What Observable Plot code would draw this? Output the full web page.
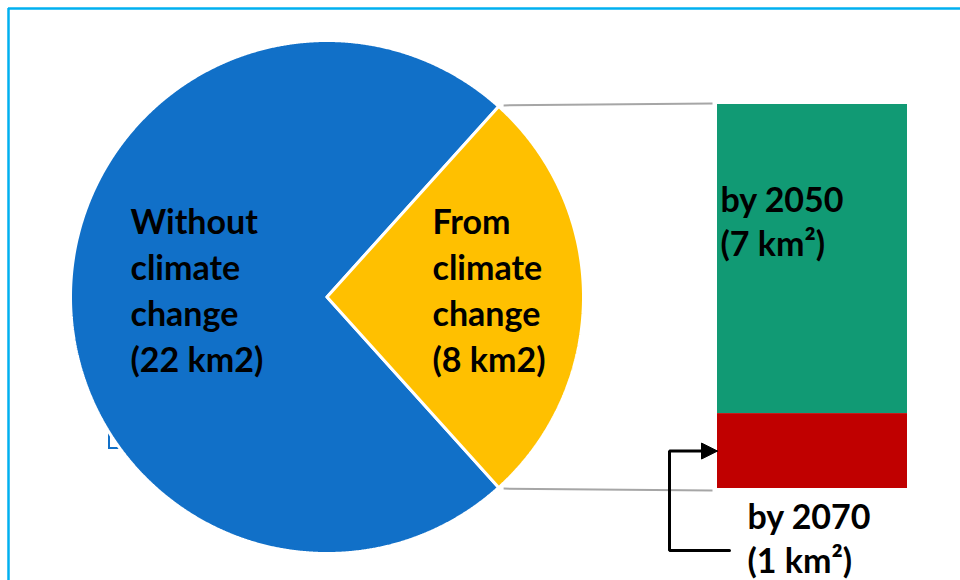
<!DOCTYPE html>
<html>
<head>
<meta charset="utf-8">
<script src="https://cdn.jsdelivr.net/npm/d3@7"></script>
<script src="https://cdn.jsdelivr.net/npm/@observablehq/plot@0.6"></script>
<style>
  html, body { margin: 0; padding: 0; background: white; overflow: hidden; }
  #wrap { position: relative; width: 960px; height: 580px; }
  #wrap svg { position: absolute; left: 0; top: 0; }
</style>
</head>
<body>
<div id="wrap"></div>
<script>
// ---- data ----
const pieCategories = ["From climate change", "Without climate change"];
const pieValues = [8, 22];
const pieColors = ["#FFC000", "#1170C8"];
const pieLabels = ["From\nclimate\nchange\n(8 km2)", "Without\nclimate\nchange\n(22 km2)"];

const barCategories = ["by 2050", "by 2070"];
const barValues = [6.44, 1.56];           // drawn proportions
const barColors = ["#119A74", "#C00000"];
const barLabels = ["by 2050\n(7 km²)", "by 2070\n(1 km²)"];

// ---- layout ----
const W = 960, H = 580;
const L = {
  cx: 326.5, cy: 296.5, r: 256.5,
  barX0: 717, barX1: 907, barTop: 104, barBottom: 488,
  pieLabelPos: [[432, 201], [130, 201]],
  barLabelPos: [[720, 180], [747, 497]],
  fontSize: 34
};

const wrap = document.getElementById("wrap");

// ---- bar (bottom layer) ----
const barData = barCategories.map((c, i) => ({category: c, value: barValues[i], color: barColors[i]}));
const barTotal = d3.sum(barValues);
const barPlot = Plot.plot({
  width: W, height: H, margin: 0,
  x: {domain: ["bar"], range: [L.barX0, L.barX1], padding: 0, axis: null},
  y: {domain: [0, barTotal], range: [L.barBottom, L.barTop], axis: null},
  color: {type: "identity"},
  marks: [
    Plot.barY(barData, {x: () => "bar", y: "value", fill: "color", reverse: true, inset: 0})
  ]
});
wrap.appendChild(barPlot);

// ---- pie geometry from values ----
const pieTotal = d3.sum(pieValues);
const firstSpan = 2 * Math.PI * pieValues[0] / pieTotal;
const start = Math.PI / 2 - firstSpan / 2;
const arcs = d3.pie().sort(null).value(d => d).startAngle(start).endAngle(start + 2 * Math.PI)(pieValues);
const pt = a => ({x: L.cx + L.r * Math.sin(a), y: L.cy - L.r * Math.cos(a)});
const slices = arcs.map((a, i) => {
  const n = Math.ceil((a.endAngle - a.startAngle) / 0.004);
  const pts = [{x: L.cx, y: L.cy}];
  for (let k = 0; k <= n; k++) pts.push(pt(a.startAngle + (a.endAngle - a.startAngle) * k / n));
  pts.push({x: L.cx, y: L.cy});
  return {points: pts, color: pieColors[i], category: pieCategories[i]};
});

const topEnd = pt(arcs[0].startAngle);
const botEnd = pt(arcs[0].endAngle);
const connectors = [
  {x1: topEnd.x + 5, y1: topEnd.y - 1, x2: L.barX0 - 5, y2: L.barTop - 1},
  {x1: botEnd.x + 5, y1: botEnd.y + 1, x2: L.barX0 - 5, y2: L.barBottom + 2}
];

// arrow from "by 2070" label to red segment
const redMid = L.barBottom - (L.barBottom - L.barTop) * barValues[1] / barTotal / 2;
const elbowX = L.barX0 - 48, lowY = 550;
const arrowPath = [
  {x: L.barX0 + 12, y: lowY}, {x: elbowX, y: lowY}, {x: elbowX, y: redMid}, {x: L.barX0 - 12, y: redMid}
];
const arrowHead = [
  {x: L.barX0, y: redMid}, {x: L.barX0 - 16, y: redMid - 8}, {x: L.barX0 - 16, y: redMid + 8}, {x: L.barX0, y: redMid}
];

const pieText = pieLabels.map((t, i) => ({text: t, x: L.pieLabelPos[i][0], y: L.pieLabelPos[i][1]}));
const barText = barLabels.map((t, i) => ({text: t, x: L.barLabelPos[i][0], y: L.barLabelPos[i][1]}));

const mainPlot = Plot.plot({
  width: W, height: H, margin: 0,
  style: {background: "transparent", fontFamily: "Lato"},
  x: {type: "identity", axis: null},
  y: {type: "identity", axis: null},
  marks: [
    // page frame
    Plot.ruleY([8], {x1: 8, x2: W, stroke: "#00B0F0", strokeWidth: 2.5}),
    Plot.ruleX([8], {y1: 8, y2: H, stroke: "#00B0F0", strokeWidth: 2.5}),
    // leftover text-box outline behind the pie
    Plot.rect([{x1: 109, x2: 135, y1: 432, y2: 448}], {x1: "x1", x2: "x2", y1: "y1", y2: "y2", fill: "none", stroke: "#1170C8", strokeWidth: 2}),
    // pie slices
    ...slices.slice().reverse().map(s =>
      Plot.line(s.points, {x: "x", y: "y", fill: s.color, stroke: "white", strokeWidth: 3, strokeLinejoin: "miter"})
    ),
    // connectors
    Plot.link(connectors, {x1: "x1", y1: "y1", x2: "x2", y2: "y2", stroke: "#A6A6A6", strokeWidth: 2}),
    // labels
    Plot.text(pieText, {x: "x", y: "y", text: "text", textAnchor: "start", lineAnchor: "top",
      fontSize: L.fontSize, fontWeight: "bold", lineHeight: 46 / L.fontSize, fill: "#000", fontFamily: "Lato"}),
    Plot.text(barText, {x: "x", y: "y", text: "text", textAnchor: "start", lineAnchor: "top",
      fontSize: L.fontSize, fontWeight: "bold", lineHeight: 44 / L.fontSize, fill: "#000", fontFamily: "Lato"}),
    // arrow
    Plot.line(arrowPath, {x: "x", y: "y", stroke: "#000", strokeWidth: 3, strokeLinejoin: "miter"}),
    Plot.line(arrowHead, {x: "x", y: "y", fill: "#000", stroke: "#000", strokeWidth: 1})
  ]
});
wrap.appendChild(mainPlot);
</script>
</body>
</html>
